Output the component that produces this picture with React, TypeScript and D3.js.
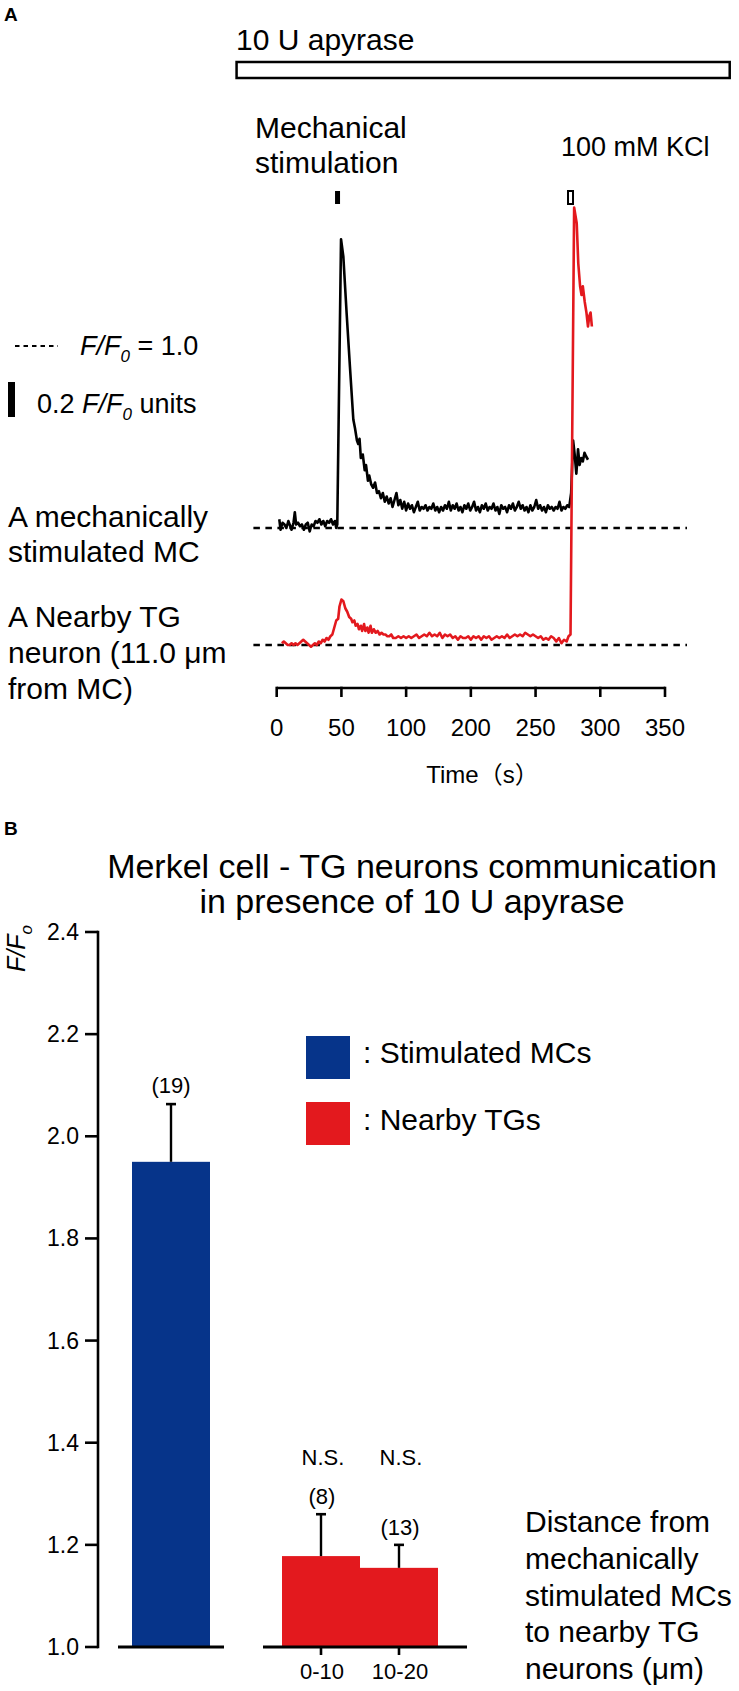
import React from "react";
import * as d3 from "d3";

// ---------- Panel A data ----------
const timeTicks = [0, 50, 100, 150, 200, 250, 300];
const timeTickLabels = ["0", "50", "100", "200", "250", "300", "350"];
const mechStimTime = 47;
const kclTime = 227;
const scaleBarValue = 0.2;

const mcTrace: [number, number][] = [
  [2,1.05],[3,0.99],[4.5,1.03],[6,1.02],[7.5,1.00],[9,1.04],[10,1.02],[11.5,0.99],[13,1.03],[14,1.09],[15,1.02],[16.5,1.03],[18,1.01],[19.5,1.02],[21,0.99],[22.5,1.02],[24,1.03],[25.5,0.98],[27,1.02],[28.5,1.01],[30,1.04],[31.5,1.03],[33,1.05],[34.5,1.02],[36,1.04],[37.5,1.01],[39,1.04],[40.5,1.03],[42,1.05],[43.5,1.02],[45,1.04],[46,1.00],[46.8,1.02],
  [49.7,2.65],[51.5,2.55],[54,2.23],[56.6,1.92],[59.2,1.62],[60.5,1.57],[62,1.50],[63,1.48],[64,1.51],[65,1.40],[66.5,1.42],[68,1.33],[69,1.36],[70.5,1.27],[71.5,1.30],[73,1.25],[74.5,1.23],[76,1.26],[77.5,1.20],[79,1.21],[80.5,1.17],[82,1.20],[83.5,1.15],[85,1.18],[86.5,1.14],[88,1.17],[89.5,1.12],[91,1.16],[92.5,1.20],[94,1.13],[95.5,1.16],[97,1.11],[98.5,1.15],[100,1.10],
  [101.5,1.14],[103,1.11],[104.5,1.13],[106,1.09],[107.5,1.12],[109,1.15],[110.5,1.10],[112,1.12],[113.5,1.11],[115,1.13],[116.5,1.10],[118,1.12],[119.5,1.11],[121,1.14],[122.5,1.10],[124,1.12],[125.5,1.09],[127,1.12],[128.5,1.10],[130,1.13],[131.5,1.11],[133,1.15],[134.5,1.10],[136,1.13],[137.5,1.11],[139,1.14],[140.5,1.10],[142,1.12],[143.5,1.09],[145,1.13],[146.5,1.11],[148,1.14],[149.5,1.10],
  [151,1.12],[152.5,1.15],[154,1.10],[155.5,1.12],[157,1.09],[158.5,1.13],[160,1.11],[161.5,1.14],[163,1.10],[164.5,1.12],[166,1.11],[167.5,1.14],[169,1.10],[170.5,1.12],[172,1.08],[173.5,1.13],[175,1.11],[176.5,1.12],[178,1.09],[179.5,1.13],[181,1.11],[182.5,1.14],[184,1.10],[185.5,1.12],[187,1.15],[188.5,1.11],[190,1.13],[191.5,1.10],[193,1.12],[194.5,1.09],[196,1.13],[197.5,1.10],[199,1.12],
  [200.5,1.16],[202,1.11],[203.5,1.13],[205,1.10],[206.5,1.12],[208,1.09],[209.5,1.13],[211,1.11],[212.5,1.12],[214,1.10],[215.5,1.12],[217,1.11],[218.5,1.15],[220,1.10],[221.5,1.12],[223,1.11],[224.5,1.13],[226,1.12],[227.5,1.20],[229,1.50],[230.2,1.42],[231.5,1.31],[232.8,1.45],[234,1.36],[235.3,1.40],[236.5,1.38],[237.8,1.43],[239,1.41],[240.5,1.39]
];

const tgTrace: [number, number][] = [
  [4,1.01],[5.5,1.02],[7,1.01],[8.5,1.00],[10,1.00],[11.5,1.01],[13,1.00],[14.5,1.01],[16,1.00],[17.5,1.01],[19,1.02],[20.5,1.03],[22,1.02],[23.5,1.01],[25,1.00],[26.5,0.99],[28,1.00],[29.5,1.01],[31,1.00],[32.5,1.02],[34,1.01],[35.5,1.03],[37,1.02],[38.5,1.04],[40,1.03],[41.5,1.05],[43,1.06],[44.5,1.10],[46,1.14],[47.5,1.15],[48.5,1.22],[50,1.26],
  [51.5,1.25],[53,1.21],[54.5,1.19],[56,1.16],[57.5,1.15],[58.5,1.13],[60,1.14],[61,1.11],[62.5,1.12],[63.5,1.09],[65,1.11],[66,1.08],[67.5,1.12],[68.5,1.08],[70,1.10],[71,1.07],[72.5,1.11],[73.5,1.07],[75,1.09],[76.5,1.07],[78,1.08],[79.5,1.06],[81,1.07],[82.5,1.06],[84,1.06],[85.5,1.05],[87,1.05],[88.5,1.06],[90,1.04],[92,1.04],[94,1.05],[96,1.04],[98,1.05],[100,1.04],
  [102,1.05],[104,1.04],[106,1.05],[108,1.06],[110,1.04],[112,1.05],[114,1.06],[116,1.05],[118,1.07],[120,1.05],[122,1.06],[124,1.05],[126,1.07],[128,1.04],[130,1.06],[132,1.05],[134,1.06],[136,1.04],[138,1.05],[140,1.03],[142,1.05],[144,1.04],[146,1.04],[148,1.05],[150,1.03],
  [152,1.05],[154,1.04],[156,1.05],[158,1.03],[160,1.05],[162,1.04],[164,1.05],[166,1.03],[168,1.04],[170,1.05],[172,1.04],[174,1.05],[176,1.04],[178,1.06],[180,1.04],[182,1.05],[184,1.06],[186,1.05],[188,1.06],[190,1.05],[192,1.07],[194,1.06],[196,1.05],[198,1.06],[200,1.05],
  [202,1.04],[204,1.05],[206,1.03],[208,1.04],[210,1.03],[212,1.05],[214,1.04],[216,1.02],[218,1.04],[220,1.01],[222,1.03],[224,1.02],[225.5,1.05],[227,1.06],[229.8,3.50],[231.8,3.41],[233,3.18],[234.4,3.05],[235.5,3.00],[236.5,3.05],[238,2.96],[239.3,2.90],[240.5,2.82],[241.5,2.88],[242.5,2.90],[243.5,2.82]
];

// ---------- Panel B data ----------
const mcCategory = ["Stimulated MCs"];
const mcMean = [1.95];
const mcErr = [0.113];
const mcN = ["(19)"];

const tgCategories = ["0-10", "10-20"];
const tgMeans = [1.178, 1.155];
const tgErrs = [0.082, 0.045];
const tgNs = ["(8)", "(13)"];
const tgSig = ["N.S.", "N.S."];

const yTicksB = [1.0, 1.2, 1.4, 1.6, 1.8, 2.0, 2.2, 2.4];
const legendItems = [": Stimulated MCs", ": Nearby TGs"];

const BLUE = "#06348a";
const RED = "#e3191e";
const FONT = "'Liberation Sans', Arial, Helvetica, 'Noto Sans CJK SC', sans-serif";

export default function App() {
  const W = 739, H = 1691;

  // Panel A scales
  const xT = d3.scaleLinear().domain([0, 300]).range([276.7, 665]);
  const yMC = d3.scaleLinear().domain([1, 2]).range([528, 353]);
  const yTG = d3.scaleLinear().domain([1, 2]).range([645, 470]);
  const lineMC = d3.line<[number, number]>().x(d => xT(d[0])).y(d => yMC(d[1]));
  const lineTG = d3.line<[number, number]>().x(d => xT(d[0])).y(d => yTG(d[1]));
  const axisY = 688;
  const barLen = yMC(1) - yMC(1 + scaleBarValue);

  // Panel B scales
  const yB = d3.scaleLinear().domain([1.0, 2.4]).range([1647, 932]);
  const xBlue = d3.scaleBand<string>().domain(mcCategory).range([132, 210]);
  const xRed = d3.scaleBand<string>().domain(tgCategories).range([282, 438]);
  const axisX = 98;

  return (
    <div style={{ position: "absolute", left: 0, top: 0 }}>
      <svg width={W} height={H} style={{ display: "block", background: "#fff" }} fontFamily={FONT}>
        {/* ===== Panel A ===== */}
        <text x={4} y={21} fontSize={19} fontWeight="bold">A</text>
        <text x={236} y={50} fontSize={30}>10 U apyrase</text>
        <rect x={xT(-31)} y={62} width={xT(350) - xT(-31)} height={16} fill="#fff" stroke="#000" strokeWidth={2.5} />

        <text x={255} y={138} fontSize={30}>Mechanical</text>
        <text x={255} y={173} fontSize={30}>stimulation</text>
        <text x={561} y={156} fontSize={27}>100 mM KCl</text>

        <rect x={xT(mechStimTime) - 2.5} y={191} width={5} height={13} fill="#000" />
        <rect x={xT(kclTime) - 2.5} y={191} width={5} height={13} fill="#fff" stroke="#000" strokeWidth={2} />

        {/* legend */}
        <line x1={15} x2={58} y1={346} y2={346} stroke="#000" strokeWidth={2.2} strokeDasharray="4.5,4" />
        <text x={80} y={355} fontSize={27}>
          <tspan fontStyle="italic">F/F</tspan>
          <tspan fontStyle="italic" fontSize={17} dy={7}>0</tspan>
          <tspan dy={-7}> = 1.0</tspan>
        </text>
        <rect x={8} y={382} width={7} height={barLen} fill="#000" />
        <text x={37} y={413} fontSize={27}>
          <tspan>0.2 </tspan>
          <tspan fontStyle="italic">F/F</tspan>
          <tspan fontStyle="italic" fontSize={17} dy={7}>0</tspan>
          <tspan dy={-7}> units</tspan>
        </text>

        <text x={8} y={527} fontSize={30}>A mechanically</text>
        <text x={8} y={562} fontSize={30}>stimulated MC</text>
        <text x={8} y={627} fontSize={30}>A Nearby TG</text>
        <text x={8} y={663} fontSize={30}>neuron (11.0 μm</text>
        <text x={8} y={699} fontSize={30}>from MC)</text>

        {/* baselines */}
        <line x1={xT(-18)} x2={xT(317)} y1={yMC(1)} y2={yMC(1)} stroke="#000" strokeWidth={2.6} strokeDasharray="6.5,5.5" />
        <line x1={xT(-18)} x2={xT(317)} y1={yTG(1)} y2={yTG(1)} stroke="#000" strokeWidth={2.6} strokeDasharray="6.5,5.5" />

        {/* traces */}
        <path d={lineMC(mcTrace) || ""} fill="none" stroke="#000" strokeWidth={2.6} strokeLinejoin="round" />
        <path d={lineTG(tgTrace) || ""} fill="none" stroke={RED} strokeWidth={2.6} strokeLinejoin="round" />

        {/* time axis */}
        <line x1={xT(0)} x2={xT(300)} y1={axisY} y2={axisY} stroke="#000" strokeWidth={2.6} />
        {timeTicks.map((t, i) => (
          <g key={t}>
            <line x1={xT(t)} x2={xT(t)} y1={axisY - 1.3} y2={axisY + 9} stroke="#000" strokeWidth={2.6} />
            <text x={xT(t)} y={736} fontSize={24} textAnchor="middle">{timeTickLabels[i]}</text>
          </g>
        ))}
        <text x={xT(159)} y={783} fontSize={24} textAnchor="middle">Time（s）</text>

        {/* ===== Panel B ===== */}
        <text x={4} y={835} fontSize={19} fontWeight="bold">B</text>
        <text x={412} y={878} fontSize={34} textAnchor="middle">Merkel cell - TG neurons communication</text>
        <text x={412} y={913} fontSize={34} textAnchor="middle">in presence of 10 U apyrase</text>

        <text transform={`translate(25, 972) rotate(-90)`} fontSize={25} fontStyle="italic">
          <tspan>F/F</tspan>
          <tspan fontSize={17} dy={7}>o</tspan>
        </text>

        <line x1={axisX} x2={axisX} y1={yB(2.4) - 1.2} y2={yB(1.0) + 1.2} stroke="#000" strokeWidth={2.6} />
        {yTicksB.map(v => (
          <g key={v}>
            <line x1={axisX - 13} x2={axisX} y1={yB(v)} y2={yB(v)} stroke="#000" strokeWidth={2.6} />
            <text x={79} y={yB(v) + 8} fontSize={23} textAnchor="end">{v.toFixed(1)}</text>
          </g>
        ))}

        {/* MC bar */}
        {mcCategory.map((c, i) => {
          const x0 = xBlue(c) as number;
          const bw = xBlue.bandwidth();
          const cx = x0 + bw / 2;
          return (
            <g key={c}>
              <rect x={x0} y={yB(mcMean[i])} width={bw} height={yB(1) - yB(mcMean[i])} fill={BLUE} />
              <line x1={cx} x2={cx} y1={yB(mcMean[i])} y2={yB(mcMean[i] + mcErr[i])} stroke="#000" strokeWidth={2.4} />
              <line x1={cx - 5} x2={cx + 5} y1={yB(mcMean[i] + mcErr[i])} y2={yB(mcMean[i] + mcErr[i])} stroke="#000" strokeWidth={2.6} />
              <text x={cx} y={yB(mcMean[i] + mcErr[i]) - 11} fontSize={22} textAnchor="middle">{mcN[i]}</text>
            </g>
          );
        })}
        <line x1={118} x2={224} y1={yB(1)} y2={yB(1)} stroke="#000" strokeWidth={3} />

        {/* TG bars */}
        {tgCategories.map((c, i) => {
          const x0 = xRed(c) as number;
          const bw = xRed.bandwidth();
          return (
            <rect key={c} x={x0} y={yB(tgMeans[i])} width={bw} height={yB(1) - yB(tgMeans[i])} fill={RED} />
          );
        })}
        {tgCategories.map((c, i) => {
          const cx = (xRed(c) as number) + xRed.bandwidth() / 2;
          const top = yB(tgMeans[i] + tgErrs[i]);
          return (
            <g key={c + "e"}>
              <line x1={cx} x2={cx} y1={yB(tgMeans[i])} y2={top} stroke="#000" strokeWidth={2.4} />
              <line x1={cx - 5} x2={cx + 5} y1={top} y2={top} stroke="#000" strokeWidth={2.6} />
              <text x={cx + 1} y={top - 10} fontSize={22} textAnchor="middle">{tgNs[i]}</text>
              <text x={cx + 2} y={1465} fontSize={22} textAnchor="middle">{tgSig[i]}</text>
              <line x1={cx} x2={cx} y1={yB(1)} y2={yB(1) + 8} stroke="#000" strokeWidth={2.6} />
              <text x={cx + 1} y={1679} fontSize={22} textAnchor="middle">{c}</text>
            </g>
          );
        })}
        <line x1={263} x2={467} y1={yB(1)} y2={yB(1)} stroke="#000" strokeWidth={3} />

        {/* legend */}
        {legendItems.map((l, i) => (
          <g key={l}>
            <rect x={306} y={1036 + i * 66} width={44} height={43} fill={i === 0 ? BLUE : RED} />
            <text x={363} y={1063 + i * 67} fontSize={30}>{l}</text>
          </g>
        ))}

        {/* right annotation */}
        {["Distance from", "mechanically", "stimulated MCs", "to nearby TG", "neurons (μm)"].map((s, i) => (
          <text key={s} x={525} y={1532 + i * 36.8} fontSize={30}>{s}</text>
        ))}
      </svg>
    </div>
  );
}
